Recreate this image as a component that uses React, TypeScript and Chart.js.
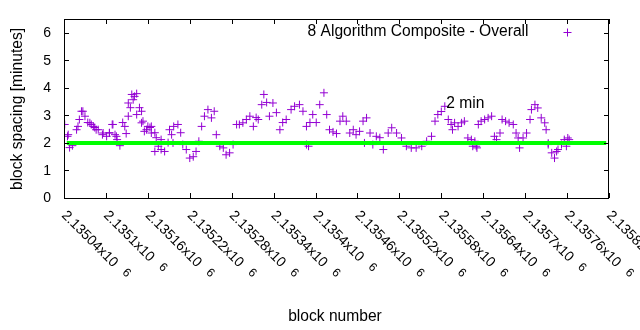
import React, { useEffect, useRef } from "react";
import { Chart, registerables } from "chart.js";

Chart.register(...registerables);

// ---------------- data ----------------
const blockNumbers = [
  2135041, 2135045, 2135048, 2135052, 2135058, 2135062, 2135067, 2135070, 2135074, 2135079,
  2135084, 2135089, 2135095, 2135101, 2135105, 2135109, 2135113, 2135116, 2135120, 2135124,
  2135127, 2135129, 2135132, 2135135, 2135139, 2135141, 2135144, 2135148, 2135151, 2135153,
  2135158, 2135163, 2135165, 2135170, 2135172, 2135175, 2135179, 2135184, 2135189, 2135194,
  2135197, 2135203, 2135207, 2135210, 2135215, 2135220, 2135225, 2135229, 2135233, 2135237,
  2135241, 2135246, 2135251, 2135255, 2135258, 2135263, 2135268, 2135272, 2135277, 2135282,
  2135287, 2135291, 2135296, 2135301, 2135306, 2135311, 2135315, 2135318, 2135323, 2135326,
  2135330, 2135334, 2135339, 2135344, 2135349, 2135353, 2135358, 2135365, 2135370, 2135377,
  2135382, 2135387, 2135387, 2135390, 2135392, 2135396, 2135401, 2135406, 2135412, 2135416,
  2135420, 2135425, 2135430, 2135435, 2135439, 2135444, 2135449, 2135454, 2135458, 2135463,
  2135468, 2135473, 2135478, 2135482, 2135487, 2135492, 2135497, 2135504, 2135509, 2135516,
  2135523, 2135530, 2135537, 2135544, 2135552, 2135559, 2135566, 2135571, 2135575, 2135580,
  2135585, 2135590, 2135594, 2135596, 2135599, 2135604, 2135609, 2135613, 2135618, 2135623,
  2135628, 2135630, 2135633, 2135637, 2135642, 2135647, 2135652, 2135656, 2135659, 2135664,
  2135667, 2135672, 2135677, 2135683, 2135687, 2135690, 2135692, 2135697, 2135702, 2135707,
  2135709, 2135714, 2135718, 2135723, 2135728, 2135730, 2135733, 2135738, 2135742, 2135747,
  2135752, 2135756, 2135761, 2135763,
  // further crosses seen inside the dense clusters
  2135046, 2135060, 2135065, 2135077, 2135082, 2135086, 2135096, 2135105, 2135110, 2135115,
  2135132, 2135137, 2135144, 2135151, 2135155, 2135160, 2135165, 2135170, 2135179, 2135191,
  2135196, 2135470, 2135625, 2135631, 2135733, 2135745, 2135759,
];

const blockSpacing = [
  2.67, 2.24, 1.83, 1.90, 2.48, 2.85, 3.15, 2.97, 2.74, 2.67,
  2.56, 2.48, 2.30, 2.24, 2.37, 2.67, 2.30, 2.12, 1.90, 2.74,
  2.60, 2.34, 2.97, 3.28, 3.57, 3.69, 3.79, 3.28, 3.15, 2.79,
  2.48, 2.56, 2.60, 2.37, 2.19, 1.88, 1.76, 1.69, 2.01, 2.30,
  2.60, 2.67, 2.37, 1.94, 1.76, 1.45, 1.50, 1.69, 2.06, 2.60,
  2.97, 3.21, 2.91, 3.15, 2.30, 1.88, 1.82, 1.57, 1.64, 1.94,
  2.67, 2.67, 2.73, 2.85, 2.97, 2.60, 2.92, 2.85, 3.39, 3.76,
  3.47, 2.97, 3.45, 3.10, 2.48, 2.74, 2.85, 3.21, 3.33, 3.39,
  3.15, 2.60, 1.94, 1.88, 2.74, 3.03, 2.74, 3.39, 3.82, 3.03,
  2.48, 2.40, 2.34, 2.79, 2.97, 2.79, 2.36, 2.48, 2.30, 2.42,
  2.79, 2.91, 2.36, 1.94, 2.24, 2.19, 1.76, 2.36, 2.55, 2.36,
  2.18, 1.88, 1.82, 1.82, 1.88, 2.06, 2.24, 2.79, 3.03, 3.14,
  3.33, 2.85, 2.67, 2.48, 2.73, 2.60, 2.73, 2.79, 2.18, 2.12,
  2.06, 1.88, 2.67, 2.79, 2.85, 2.91, 2.97, 2.24, 2.12, 2.36,
  2.85, 2.79, 2.73, 2.67, 2.36, 2.18, 1.82, 2.18, 2.36, 2.85,
  3.21, 3.39, 3.27, 2.91, 2.73, 2.48, 1.94, 1.64, 1.45, 1.76,
  1.94, 2.12, 2.18, 2.12,
  2.30, 2.60, 3.15, 2.73, 2.60, 2.48, 2.36, 2.36, 2.67, 2.24,
  3.45, 3.76, 3.03, 2.73, 2.42, 2.60, 2.36, 1.69, 2.12, 2.48,
  2.00, 2.00, 1.88, 1.82, 1.99, 1.69, 1.88,
];

const targetBlocks = [2135044, 2135816];
const targetValues = [2, 2];

const xMin = 2135040;
const xMax = 2135820;
const yMin = 0;
const yMax = 6.5;

const xTickValues = [
  2135040, 2135100, 2135160, 2135220, 2135280, 2135340, 2135400,
  2135460, 2135520, 2135580, 2135640, 2135700, 2135760, 2135820,
];
const xTickMantissas = [
  "2.13504", "2.1351", "2.13516", "2.13522", "2.13528", "2.13534", "2.1354",
  "2.13546", "2.13552", "2.13558", "2.13564", "2.1357", "2.13576", "2.13582",
];
const xTickExponent = "6";
const yTickValues = [0, 1, 2, 3, 4, 5, 6];
const yTickLabels = ["0", "1", "2", "3", "4", "5", "6"];

const seriesLabel = "8 Algorithm Composite - Overall";
const xTitle = "block number";
const yTitle = "block spacing [minutes]";
const noteText = "2 min";
const noteBlock = 2135587;
const noteValue = 3.27;

// ---------------- styles ----------------
const FONT = '"Liberation Sans", Arial, sans-serif';
const TITLE_FONT = `15.6px ${FONT}`;
const TICK_FONT = `14px ${FONT}`;
const EXP_FONT = `12px ${FONT}`;
const PURPLE = "#9400d3";
const GREEN = "#00ff00";

function drawCross(ctx: CanvasRenderingContext2D, x: number, y: number, r: number) {
  ctx.beginPath();
  ctx.moveTo(x - r, y);
  ctx.lineTo(x + r, y);
  ctx.moveTo(x, y - r);
  ctx.lineTo(x, y + r);
  ctx.stroke();
}

const gnuplotDecor = {
  id: "gnuplotDecor",
  afterDraw(chart: any) {
    const ctx: CanvasRenderingContext2D = chart.ctx;
    const xs = chart.scales.x;
    const ys = chart.scales.y;
    const { left, right, top, bottom } = chart.chartArea;
    const tl = 5;
    ctx.save();
    ctx.strokeStyle = "#000";
    ctx.lineWidth = 1;
    // border
    ctx.strokeRect(Math.round(left) + 0.5, Math.round(top) + 0.5, Math.round(right - left) - 1, Math.round(bottom - top));
    // ticks (inside, mirrored)
    ctx.beginPath();
    xTickValues.forEach((v) => {
      const px = Math.round(xs.getPixelForValue(v)) + 0.5;
      ctx.moveTo(px, bottom);
      ctx.lineTo(px, bottom - tl);
      ctx.moveTo(px, top);
      ctx.lineTo(px, top + tl);
    });
    yTickValues.forEach((v) => {
      const py = Math.round(ys.getPixelForValue(v)) + 0.5;
      ctx.moveTo(left, py);
      ctx.lineTo(left + tl, py);
      ctx.moveTo(right, py);
      ctx.lineTo(right - tl, py);
    });
    ctx.stroke();

    ctx.fillStyle = "#000";
    // y tick labels
    ctx.font = TICK_FONT;
    ctx.textAlign = "right";
    ctx.textBaseline = "middle";
    yTickValues.forEach((v, i) => {
      ctx.fillText(yTickLabels[i], left - 13, ys.getPixelForValue(v) + 0.5);
    });

    // x tick labels, rotated 45deg clockwise
    xTickValues.forEach((v, i) => {
      const px = xs.getPixelForValue(v);
      ctx.save();
      ctx.translate(px - 3, bottom + 18);
      ctx.rotate(Math.PI / 4);
      ctx.font = TICK_FONT;
      ctx.textAlign = "left";
      ctx.textBaseline = "alphabetic";
      const main = xTickMantissas[i] + "x10";
      ctx.fillText(main, 0, 0);
      const w = ctx.measureText(main).width;
      ctx.font = EXP_FONT;
      ctx.textBaseline = "middle";
      ctx.fillText(xTickExponent, w + 10, -6);
      ctx.restore();
    });

    // axis titles
    ctx.font = TITLE_FONT;
    ctx.textAlign = "center";
    ctx.textBaseline = "alphabetic";
    ctx.fillText(xTitle, 335, 320.5);
    ctx.save();
    ctx.translate(21.5, 109);
    ctx.rotate(-Math.PI / 2);
    ctx.fillText(yTitle, 0, 0);
    ctx.restore();

    // note label
    ctx.textAlign = "left";
    ctx.fillText(noteText, xs.getPixelForValue(noteBlock), ys.getPixelForValue(noteValue));

    // key
    ctx.textAlign = "right";
    ctx.fillText(seriesLabel, 528.5, 36);
    ctx.strokeStyle = PURPLE;
    drawCross(ctx, 567.5, 32.5, 4);
    ctx.restore();
  },
};

export default function App() {
  const ref = useRef<HTMLCanvasElement | null>(null);
  useEffect(() => {
    if (!ref.current) return;
    const points = blockNumbers.map((b, i) => ({ x: b, y: blockSpacing[i] }));
    const target = targetBlocks.map((b, i) => ({ x: b, y: targetValues[i] }));
    const chart = new Chart(ref.current, {
      type: "scatter",
      data: {
        datasets: [
          {
            label: "2 min",
            data: target,
            showLine: true,
            borderColor: GREEN,
            backgroundColor: GREEN,
            borderWidth: 4,
            pointRadius: 0,
            pointHoverRadius: 0,
          } as any,
          {
            label: seriesLabel,
            data: points,
            pointStyle: "cross",
            pointRadius: 4,
            pointHoverRadius: 4,
            borderColor: PURPLE,
            backgroundColor: PURPLE,
            borderWidth: 1,
            pointBorderWidth: 1,
          } as any,
        ],
      },
      options: {
        responsive: false,
        animation: false,
        events: [],
        layout: { padding: { left: 64, right: 31, top: 19, bottom: 132 } },
        plugins: { legend: { display: false }, tooltip: { enabled: false }, title: { display: false } },
        scales: {
          x: { type: "linear", min: xMin, max: xMax, display: false },
          y: { type: "linear", min: yMin, max: yMax, display: false },
        },
      },
      plugins: [gnuplotDecor],
    });
    return () => chart.destroy();
  }, []);
  return (
    <div style={{ position: "fixed", left: 0, top: 0, width: 640, height: 330, background: "#fff" }}>
      <canvas ref={ref} width={640} height={330} style={{ display: "block" }} />
    </div>
  );
}
